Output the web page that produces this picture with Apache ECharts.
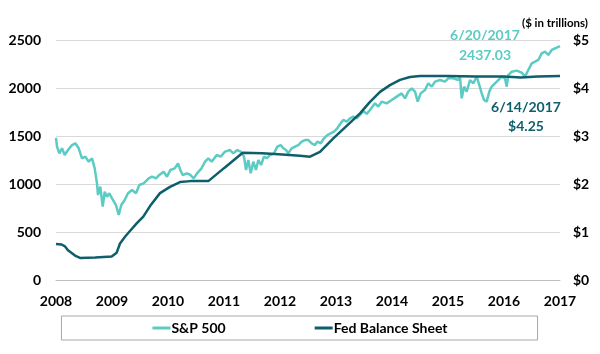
<!DOCTYPE html>
<html>
<head>
<meta charset="utf-8">
<script src="https://cdn.jsdelivr.net/npm/echarts@6/dist/echarts.min.js"></script>
<style>
  html, body { margin: 0; padding: 0; background: #fff; }
  #chart { width: 600px; height: 354px; }
</style>
</head>
<body>
<div id="chart"></div>
<script>
// S&P 500 (left axis), x positions in axis years
const spYears = [2008.0, 2008.018, 2008.059, 2008.107, 2008.155, 2008.214, 2008.286, 2008.345, 2008.405, 2008.464,
  2008.523, 2008.584, 2008.643, 2008.691, 2008.732, 2008.75, 2008.791, 2008.834, 2008.87, 2008.911,
  2008.952, 2009.0, 2009.03, 2009.071, 2009.12, 2009.166, 2009.227, 2009.286, 2009.357, 2009.429,
  2009.488, 2009.566, 2009.655, 2009.714, 2009.786, 2009.845, 2009.923, 2009.982, 2010.041, 2010.12,
  2010.179, 2010.22, 2010.262, 2010.339, 2010.398, 2010.459, 2010.518, 2010.595, 2010.661, 2010.72,
  2010.78, 2010.87, 2010.941, 2011.018, 2011.107, 2011.166, 2011.238, 2011.298, 2011.357, 2011.393,
  2011.434, 2011.477, 2011.523, 2011.571, 2011.613, 2011.661, 2011.714, 2011.763, 2011.821, 2011.893,
  2011.952, 2012.013, 2012.059, 2012.107, 2012.148, 2012.209, 2012.268, 2012.327, 2012.388, 2012.446,
  2012.505, 2012.566, 2012.625, 2012.666, 2012.727, 2012.786, 2012.845, 2012.905, 2012.964, 2013.023,
  2013.084, 2013.13, 2013.191, 2013.25, 2013.309, 2013.37, 2013.429, 2013.488, 2013.548, 2013.607,
  2013.696, 2013.755, 2013.816, 2013.905, 2013.995, 2014.084, 2014.173, 2014.232, 2014.291, 2014.352,
  2014.411, 2014.459, 2014.513, 2014.589, 2014.648, 2014.709, 2014.768, 2014.857, 2014.946, 2015.005,
  2015.095, 2015.184, 2015.214, 2015.245, 2015.286, 2015.334, 2015.393, 2015.452, 2015.513, 2015.559,
  2015.602, 2015.643, 2015.691, 2015.738, 2015.78, 2015.839, 2015.898, 2015.959, 2016.018, 2016.048,
  2016.077, 2016.138, 2016.227, 2016.316, 2016.375, 2016.434, 2016.495, 2016.554, 2016.613, 2016.673,
  2016.732, 2016.791, 2016.852, 2016.911, 2017.0];
const spValues = [1480, 1389, 1319, 1372, 1302, 1354, 1406, 1424, 1372, 1268,
  1285, 1232, 1268, 1163, 1007, 885, 972, 764, 920, 868,
  903, 851, 868, 781, 677, 781, 833, 903, 938, 903,
  990, 1007, 1059, 1076, 1059, 1094, 1128, 1076, 1146, 1163,
  1215, 1146, 1094, 1111, 1094, 1059, 1111, 1160, 1232, 1268,
  1232, 1302, 1285, 1337, 1354, 1319, 1354, 1337, 1285, 1146,
  1250, 1111, 1232, 1146, 1250, 1198, 1285, 1268, 1302, 1319,
  1389, 1406, 1372, 1354, 1319, 1372, 1389, 1406, 1441, 1458,
  1458, 1424, 1406, 1441, 1424, 1476, 1510, 1528, 1545, 1580,
  1632, 1667, 1649, 1684, 1701, 1684, 1720, 1760, 1730, 1771,
  1840, 1806, 1858, 1840, 1875, 1910, 1944, 1892, 1962, 1997,
  1962, 1858, 1944, 1979, 2049, 2014, 2066, 2083, 2066, 2101,
  2101, 2083, 2118, 1892, 2014, 1962, 2083, 2049, 2118, 2031,
  1944, 1875, 1858, 1962, 2014, 2049, 2083, 2118, 2101, 2014,
  2135, 2170, 2181, 2160, 2118, 2188, 2257, 2274, 2292, 2361,
  2378, 2344, 2396, 2413, 2437.03];

// Fed balance sheet ($ trillions, right axis)
const fedYears = [2008.0, 2008.1, 2008.161, 2008.214, 2008.339, 2008.429, 2008.7, 2008.994, 2009.083, 2009.143,
  2009.232, 2009.321, 2009.44, 2009.559, 2009.679, 2009.857, 2010.036, 2010.214, 2010.4, 2010.72,
  2011.0, 2011.334, 2011.679, 2011.976, 2012.357, 2012.536, 2012.714, 2012.952, 2013.191, 2013.429,
  2013.607, 2013.786, 2013.964, 2014.143, 2014.321, 2014.5, 2015.0, 2015.5, 2016.0, 2016.3,
  2016.6, 2017.0];
const fedValues = [0.75, 0.74, 0.70, 0.62, 0.51, 0.46, 0.47, 0.49, 0.57, 0.76,
  0.90, 1.02, 1.18, 1.32, 1.54, 1.81, 1.94, 2.04, 2.06, 2.06,
  2.33, 2.65, 2.64, 2.62, 2.59, 2.57, 2.67, 2.95, 3.21, 3.47,
  3.71, 3.92, 4.06, 4.17, 4.23, 4.25, 4.25, 4.24, 4.24, 4.22,
  4.24, 4.25];

const seriesNames = ['S&P 500', 'Fed Balance Sheet'];
const spColor = '#5ccbc4';
const fedColor = '#0e5e6c';
const font = 'Lato, "Open Sans", sans-serif';

const chart = echarts.init(document.getElementById('chart'));

const option = {
  animation: false,
  grid: { left: 56, right: 40, top: 40, bottom: 74 },
  legend: {
    data: seriesNames,
    top: 316,
    left: 'center',
    padding: [5, 90, 5, 91],
    itemGap: 89,
    itemWidth: 18,
    itemHeight: 3,
    icon: 'rect',
    borderColor: '#a6a6a6',
    borderWidth: 1,
    textStyle: { fontFamily: font, fontWeight: 'bold', fontSize: 14, color: '#000', padding: [0, 0, 0, -4] }
  },
  xAxis: {
    type: 'value',
    min: 2008,
    max: 2017,
    interval: 1,
    axisLine: { lineStyle: { color: '#bfbfbf', width: 1 } },
    axisTick: { show: false },
    splitLine: { show: false },
    axisLabel: {
      margin: 14,
      formatter: v => String(v),
      fontFamily: font, fontWeight: 'bold', fontSize: 14, color: '#000'
    }
  },
  yAxis: [
    {
      type: 'value',
      min: 0,
      max: 2500,
      interval: 500,
      axisLine: { show: false },
      axisTick: { show: false },
      splitLine: { lineStyle: { color: '#d9d9d9', width: 1 } },
      axisLabel: {
        margin: 15,
        formatter: v => String(v),
        fontFamily: font, fontWeight: 'bold', fontSize: 14, color: '#000'
      }
    },
    {
      type: 'value',
      min: 0,
      max: 5,
      interval: 1,
      axisLine: { show: false },
      axisTick: { show: false },
      splitLine: { show: false },
      axisLabel: {
        margin: 13,
        formatter: v => '$' + v,
        fontFamily: font, fontWeight: 'bold', fontSize: 14, color: '#000'
      }
    }
  ],
  series: [
    {
      name: seriesNames[0],
      type: 'line',
      yAxisIndex: 0,
      showSymbol: false,
      color: spColor,
      lineStyle: { width: 2.5, color: spColor },
      data: spYears.map((x, i) => [x, spValues[i]])
    },
    {
      name: seriesNames[1],
      type: 'line',
      yAxisIndex: 1,
      showSymbol: false,
      color: fedColor,
      lineStyle: { width: 2.5, color: fedColor },
      data: fedYears.map((x, i) => [x, fedValues[i]])
    }
  ],
  graphic: [
    { type: 'text', x: 555, y: 23, style: { text: '($ in trillions)', fill: '#000', font: 'bold 11.5px ' + font, align: 'center', verticalAlign: 'middle' } },
    { type: 'text', x: 485, y: 35, style: { text: '6/20/2017', fill: spColor, font: 'bold 14px ' + font, align: 'center', verticalAlign: 'middle' } },
    { type: 'text', x: 485, y: 55, style: { text: '2437.03', fill: spColor, font: 'bold 14px ' + font, align: 'center', verticalAlign: 'middle' } },
    { type: 'text', x: 526, y: 107, style: { text: '6/14/2017', fill: fedColor, font: 'bold 14px ' + font, align: 'center', verticalAlign: 'middle' } },
    { type: 'text', x: 526, y: 126, style: { text: '$4.25', fill: fedColor, font: 'bold 14px ' + font, align: 'center', verticalAlign: 'middle' } }
  ]
};

chart.setOption(option);
</script>
</body>
</html>
